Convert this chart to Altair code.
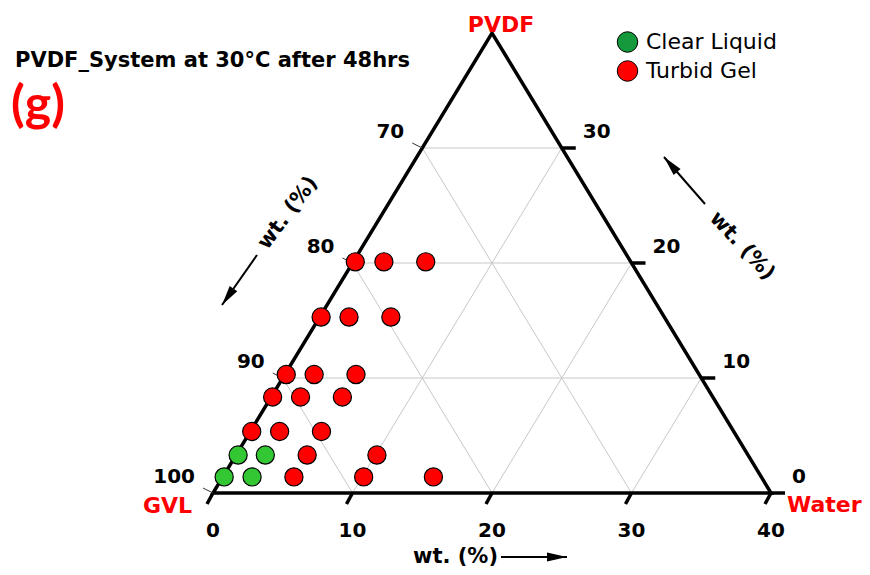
import altair as alt
import pandas as pd

# ---------------- data ----------------
phase_names = ["Clear Liquid", "Turbid Gel"]
point_colors = ["#33c733", "#ff0000"]
legend_colors = ["#14993c", "#ff0000"]

pvdf_wt = [1.4, 1.4, 1.4, 1.4, 1.4,
           3.3, 3.3, 3.3, 3.3,
           5.35, 5.35, 5.35,
           8.35, 8.35, 8.35,
           10.3, 10.3, 10.3,
           15.3, 15.3, 15.3,
           20.1, 20.1, 20.1]
water_wt = [0.1, 2.1, 5.1, 10.1, 15.1,
            0.15, 2.1, 5.1, 10.1,
            0.1, 2.1, 5.1,
            0.1, 2.1, 5.1,
            0.1, 2.1, 5.1,
            0.1, 2.1, 5.1,
            0.15, 2.2, 5.2]
phase = (["Clear Liquid", "Clear Liquid", "Turbid Gel", "Turbid Gel", "Turbid Gel",
          "Clear Liquid", "Clear Liquid", "Turbid Gel", "Turbid Gel"]
         + ["Turbid Gel"] * 15)

water_ticks = [0, 10, 20, 30, 40]   # bottom axis
gvl_ticks = [100, 90, 80, 70]       # left axis
pvdf_ticks = [0, 10, 20, 30]        # right axis
grid_vals = [10, 20, 30]
span = 40

title_text = "PVDF_System at 30°C after 48hrs"
panel_tag = "(g)"
axis_title = "wt. (%)"

# ---------------- geometry ----------------
W, H = 558, 460
SX, SY = W / span, H / span
FONT = "DejaVu Sans"

xs = alt.Scale(domain=[0, span], nice=False, zero=False)
ys = alt.Scale(domain=[0, span], nice=False, zero=False)


def X(f):
    return alt.X(f, type="quantitative", scale=xs, axis=None)


def Y(f):
    return alt.Y(f, type="quantitative", scale=ys, axis=None)


def seg_chart(rows, color, width, cap="butt"):
    df = pd.DataFrame(rows, columns=["x", "y", "x2", "y2"])
    return alt.Chart(df).mark_rule(color=color, strokeWidth=width, strokeCap=cap).encode(
        x=X("x"), y=Y("y"), x2="x2", y2="y2")


# grid lines
grid_rows = []
for g in grid_vals:
    grid_rows.append((g / 2, g, span - g / 2, g))              # constant PVDF
    grid_rows.append((g, 0, g + (span - g) / 2, span - g))     # constant water
    grid_rows.append((g, 0, g / 2, g))                         # constant GVL
grid = seg_chart(grid_rows, "#c8c8c8", 1)

# triangle frame
frame_df = pd.DataFrame({"x": [span / 2, span, span / 2, 0, span / 2],
                         "y": [0, 0, span, 0, 0],
                         "o": [0, 1, 2, 3, 4]})
frame = alt.Chart(frame_df).mark_line(color="black", strokeWidth=3.5,
                                      strokeJoin="miter").encode(
    x=X("x"), y=Y("y"), order="o:Q")

# ticks
bottom_tick_rows = [(w, 0, w - 6 / SX, -11 / SY) for w in water_ticks]
right_tick_rows = [(span - p / 2, p, span - p / 2 + 14 / SX, p) for p in pvdf_ticks]
left_tick_rows = [((100 - g) / 2, 100 - g, (100 - g) / 2 - 10 / SX, 100 - g + 5 / SY)
                  for g in gvl_ticks]
ticks = (seg_chart(bottom_tick_rows, "black", 3.5)
         + seg_chart(right_tick_rows, "black", 3.5)
         + seg_chart(left_tick_rows, "#333333", 1))

# tick labels
bl = pd.DataFrame({"x": water_ticks, "y": [0] * len(water_ticks),
                   "t": [str(v) for v in water_ticks]})
ll = pd.DataFrame({"x": [(100 - g) / 2 for g in gvl_ticks],
                   "y": [100 - g for g in gvl_ticks],
                   "t": [str(v) for v in gvl_ticks]})
rl = pd.DataFrame({"x": [span - p / 2 for p in pvdf_ticks], "y": pvdf_ticks,
                   "t": [str(v) for v in pvdf_ticks]})
lab_kw = dict(font=FONT, fontSize=20, fontWeight="bold", color="black")
tick_labels = (
    alt.Chart(bl).mark_text(align="center", baseline="alphabetic", dy=44, **lab_kw)
    .encode(x=X("x"), y=Y("y"), text="t:N")
    + alt.Chart(ll).mark_text(align="right", baseline="alphabetic", dx=-18, dy=-10, **lab_kw)
    .encode(x=X("x"), y=Y("y"), text="t:N")
    + alt.Chart(rl).mark_text(align="left", baseline="alphabetic", dx=21, dy=-10, **lab_kw)
    .encode(x=X("x"), y=Y("y"), text="t:N")
)

# data points
pts_df = pd.DataFrame({"water": water_wt, "pvdf": pvdf_wt, "phase": phase})
points = alt.Chart(pts_df).transform_calculate(
    x="datum.water + datum.pvdf / 2", y="datum.pvdf"
).mark_circle(size=330, stroke="black", strokeWidth=1.2, opacity=1).encode(
    x=X("x"), y=Y("y"),
    fill=alt.Fill("phase:N", scale=alt.Scale(domain=phase_names, range=point_colors),
                  legend=None))

# ---------------- annotations (plot-relative pixels) ----------------
one = pd.DataFrame({"a": [0]})


def txt(text, x, y, size, color="black", align="left", baseline="alphabetic",
        angle=0, weight="bold", font=FONT):
    kw = dict(align=align, baseline=baseline, font=font, fontSize=size,
              fontWeight=weight, color=color, text=text)
    if angle:
        kw["angle"] = angle
    return alt.Chart(one).mark_text(**kw).encode(x=alt.value(x), y=alt.value(y))


def arrow(x1, y1, x2, y2, ang):
    line = alt.Chart(one).mark_rule(color="black", strokeWidth=2).encode(
        x=alt.value(x1), y=alt.value(y1), x2=alt.value(x2), y2=alt.value(y2))
    head = alt.Chart(one).mark_point(
        shape="M0,0L-1,-0.23L-1,0.23Z", size=1600, filled=True, color="black",
        opacity=1, angle=ang).encode(x=alt.value(x2), y=alt.value(y2))
    return line + head


annot = (
    txt(title_text, -198, 34, 21)
    + txt(panel_tag, -202, 88, 50, color="#ff0000", font="Lato")
    + txt("PVDF", 288, -1, 22, color="#ff0000", align="center")
    + txt("GVL", -21, 480, 22, color="#ff0000", align="right")
    + txt("Water", 574, 479, 22, color="#ff0000")
    + txt(axis_title, 285, 530, 21, align="right")
    + arrow(288, 524, 354, 524, 0)
    + txt(axis_title, 75, 180, 21, align="center", baseline="middle", angle=307)
    + arrow(44, 222, 9, 272, 125)
    + txt(axis_title, 529, 213, 21, align="center", baseline="middle", angle=47)
    + arrow(492, 171, 451, 124, 229)
)

# legend
leg_df = pd.DataFrame({"label": phase_names, "row": [0, 1]})
legend_sym = alt.Chart(leg_df).transform_calculate(
    ly="9 + datum.row * 29"
).mark_circle(size=420, stroke="black", strokeWidth=1, opacity=1).encode(
    x=alt.value(414.5), y=alt.Y("ly:Q", scale=None),
    fill=alt.Fill("label:N", scale=alt.Scale(domain=phase_names, range=legend_colors),
                  legend=None))
legend_txt = alt.Chart(leg_df).transform_calculate(
    ly="9 + datum.row * 29"
).mark_text(align="left", baseline="middle", font=FONT, fontSize=22,
            color="black").encode(
    x=alt.value(433), y=alt.Y("ly:Q", scale=None), text="label:N")

chart = alt.layer(
    grid, frame, ticks, points, tick_labels, annot, legend_sym, legend_txt
).resolve_scale(fill="independent").properties(
    width=W, height=H,
    padding={"left": 205, "top": 25, "right": 91, "bottom": 74},
    autosize=alt.AutoSizeParams(type="none"),
    background="white",
).configure_view(stroke=None)

chart.save("out.html", embed_options={"renderer": "svg", "actions": False})
